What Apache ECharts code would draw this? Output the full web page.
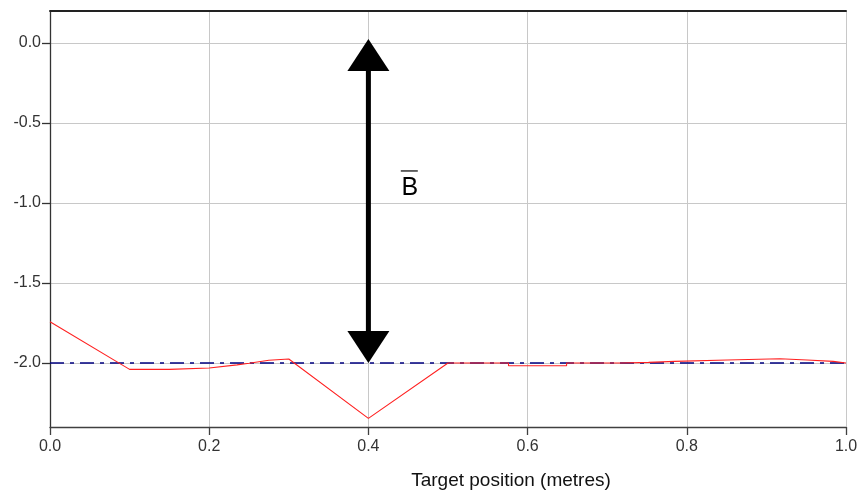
<!DOCTYPE html>
<html>
<head>
<meta charset="utf-8">
<script src="https://cdn.jsdelivr.net/npm/echarts@6/dist/echarts.min.js"></script>
<style>
html,body{margin:0;padding:0;background:#fff;}
#chart{width:864px;height:503px;}
</style>
</head>
<body>
<div id="chart"></div>
<script>
// ---- data ----
const xTicks = [0, 0.2, 0.4, 0.6, 0.8, 1.0];
const yTicks = [0.0, -0.5, -1.0, -1.5, -2.0];
const posX = [0, 0.1, 0.15, 0.15, 0.2, 0.235, 0.25, 0.275, 0.3, 0.4, 0.5,
  0.576, 0.576, 0.649, 0.649, 0.718, 0.718, 0.752, 0.752, 0.785, 0.785,
  0.851, 0.851, 0.917, 0.917, 0.951, 0.951, 0.984, 0.984, 1.0];
const fieldY = [-1.742, -2.04, -2.04, -2.034, -2.031, -2.012, -2.002, -1.983, -1.975, -2.346, -2.0,
  -2.0, -2.017, -2.017, -2.0, -2.0, -1.996, -1.996, -1.99, -1.99, -1.981,
  -1.981, -1.973, -1.973, -1.981, -1.981, -1.99, -1.99, -1.997, -2.0];
const refX = [0, 1.0];
const refY = [-2.0, -2.0];
const arrowX = 0.4;
const arrowBottom = -2.0;
const arrowTop = 0.025;
const labelX = 0.452;
const labelY = -0.906;
const labelText = 'B';
const xName = 'Target position (metres)';

const FONT = "'Liberation Sans', Arial, sans-serif";
const chart = echarts.init(document.getElementById('chart'), null, {renderer: 'canvas'});

const redData = posX.map((x, i) => [x, fieldY[i]]);
const refData = refX.map((x, i) => [x, refY[i]]);

chart.setOption({
  animation: false,
  backgroundColor: '#ffffff',
  grid: {left: 50, right: 18, top: 11, bottom: 76},
  xAxis: [{
    type: 'value', min: 0, max: 1, interval: 0.2,
    name: xName, nameLocation: 'middle', nameGap: 44,
    nameTextStyle: {fontFamily: FONT, fontSize: 19, color: '#111', padding: [0, 0, 0, 126]},
    axisLine: {show: true, onZero: false, lineStyle: {color: '#404040', width: 1.3}},
    axisTick: {show: true, length: 8, lineStyle: {color: '#404040', width: 1.3}},
    axisLabel: {fontFamily: FONT, fontSize: 16, color: '#333', margin: 12,
      customValues: xTicks, formatter: v => v.toFixed(1)},
    splitLine: {show: true, lineStyle: {color: '#c8c8c8', width: 1}}
  }, {
    type: 'value', min: 0, max: 1, position: 'top',
    axisLine: {show: true, onZero: false, lineStyle: {color: '#222', width: 2}},
    axisTick: {show: false}, axisLabel: {show: false}, splitLine: {show: false}
  }],
  yAxis: {
    type: 'value', min: -2.4, max: 0.2, splitNumber: 5,
    axisLine: {show: true, onZero: false, lineStyle: {color: '#333', width: 1.3}},
    axisTick: {show: true, length: 8, customValues: yTicks, lineStyle: {color: '#333', width: 1.3}},
    axisLabel: {fontFamily: FONT, fontSize: 16, color: '#333', margin: 9, customValues: yTicks,
      formatter: v => v.toFixed(1)},
    splitLine: {show: true, lineStyle: {color: '#c8c8c8', width: 1}}
  },
  series: [{
    type: 'line', data: refData, showSymbol: false, symbol: 'none',
    lineStyle: {color: '#000080', width: 1.7, type: [14, 6, 4, 6]}, z: 2
  }, {
    type: 'line', data: redData, showSymbol: false, symbol: 'none',
    lineStyle: {color: '#ff2020', width: 1.1}, z: 3
  }, {
    type: 'custom', clip: false, z: 5,
    data: [[arrowX, arrowBottom, arrowTop]],
    renderItem: function (params, api) {
      const b = api.coord([api.value(0), api.value(1)]);
      const t = api.coord([api.value(0), api.value(2)]);
      const cx = b[0], hw = 21, hh = 32, sw = 5;
      return {type: 'group', children: [
        {type: 'rect', shape: {x: cx - sw / 2, y: t[1] + hh - 2, width: sw, height: (b[1] - hh) - (t[1] + hh) + 4},
          style: {fill: '#000'}},
        {type: 'polygon', shape: {points: [[cx, t[1]], [cx - hw, t[1] + hh], [cx + hw, t[1] + hh]]}, style: {fill: '#000'}},
        {type: 'polygon', shape: {points: [[cx, b[1]], [cx - hw, b[1] - hh], [cx + hw, b[1] - hh]]}, style: {fill: '#000'}}
      ]};
    }
  }, {
    type: 'custom', clip: false, z: 5,
    data: [[labelX, labelY]],
    renderItem: function (params, api) {
      const p = api.coord([api.value(0), api.value(1)]);
      return {type: 'group', children: [
        {type: 'text', style: {text: labelText, x: p[0], y: p[1], font: '25px ' + FONT, fill: '#000',
          textAlign: 'center', textVerticalAlign: 'middle'}},
        {type: 'line', shape: {x1: p[0] - 9, y1: p[1] - 17, x2: p[0] + 8, y2: p[1] - 17},
          style: {stroke: '#000', lineWidth: 1.2}}
      ]};
    }
  }]
});
</script>
</body>
</html>
